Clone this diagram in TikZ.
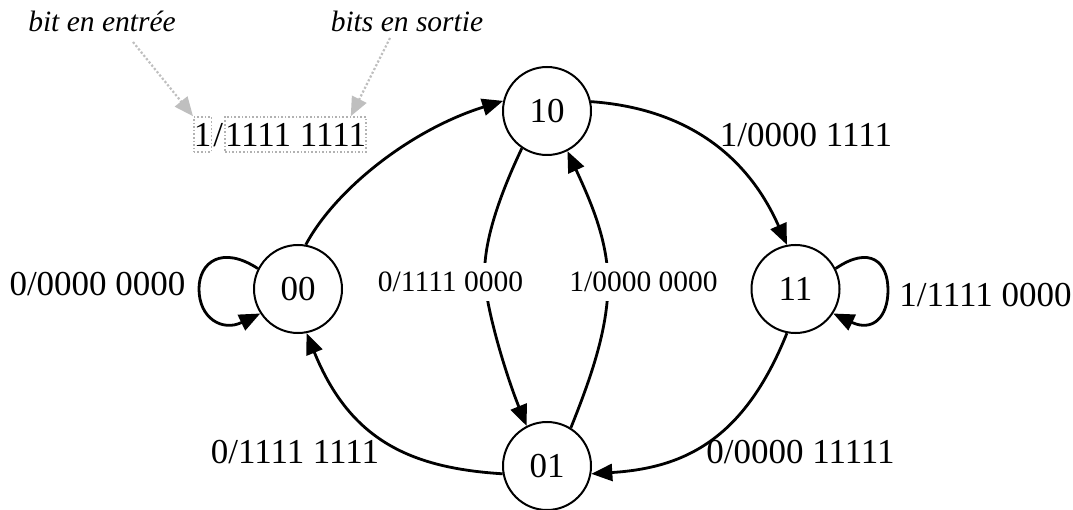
\documentclass[tikz,border=0pt]{standalone}
\usepackage{fontspec}
\setmainfont{Liberation Serif}
\usetikzlibrary{arrows.meta}
\begin{document}
\begin{tikzpicture}[x=1pt,y=-1pt,
  state/.style={circle,draw,line width=2pt,minimum size=88pt,inner sep=0pt,font=\fontsize{35}{40}\selectfont},
  edge/.style={line width=2.8pt,-{Triangle[length=21pt,width=17pt]}},
  lab/.style={inner sep=0pt,anchor=base,font=\fontsize{35}{40}\selectfont},
  midlab/.style={fill=white,inner xsep=2pt,inner ysep=9pt,anchor=base,font=\fontsize{29.5}{34}\selectfont},
  note/.style={inner sep=0pt,anchor=base,font=\fontsize{29.5}{34}\selectfont\itshape},
  hint/.style={draw=black!25,line width=2.2pt,dotted,-{Triangle[length=19pt,width=16pt,fill=black!25]}},
  partbox/.style={draw=black!30,line width=1.6pt,dotted,inner sep=0pt,text height=30pt,text depth=5pt,anchor=base west,font=\fontsize{35}{40}\selectfont}
]
\useasboundingbox (0,0) rectangle (1073,510);

\node[state] (n00) at (298,289) {00};
\node[state] (n10) at (547,111) {10};
\node[state] (n11) at (795.5,289) {11};
\node[state] (n01) at (547,466) {01};

% annotation
\node[partbox] (inbit) at (193,147) {1};
\node[inner sep=0pt,anchor=base west,font=\fontsize{35}{40}\selectfont] (slash) at ([xshift=1pt]inbit.base east) {/};
\node[partbox] (outbits) at ([xshift=1pt]slash.base east) {1111 1111};
\node[note] (tin) at (102,32) {bit en entrée};
\node[note] (tout) at (407,32) {bits en sortie};
\coordinate (tinend) at (133,42);
\coordinate (toutend) at (390,38);
\draw[hint] (tinend) -- (inbit.north west);
\draw[hint] (toutend) -- ([xshift=-16pt]outbits.north east);

% edges
\draw[edge] (n00.80) .. controls (335,190) and (410,130) .. (n10.167);
\draw[edge] (n10.12) .. controls (680,108) and (745,150) .. (n11.101);
\draw[edge] (n11.27) .. controls (870,245) and (888,262) .. (888,290) .. controls (888,318) and (872,332) .. (n11.-33);
\draw[edge] (n00.153) .. controls (222,245) and (199,262) .. (199,289) .. controls (199,318) and (222,332) .. (n00.213);
\draw[edge] (n10.236) .. controls (495,205) and (482,250) .. (485,283) .. controls (489,320) and (508,380) .. (n01.117);
\draw[edge] (n01.58) .. controls (590,380) and (608,330) .. (608,283) .. controls (608,240) and (590,200) .. (n10.-63);
\draw[edge] (n11.-101) .. controls (744,440) and (684,468) .. (n01.-10);
\draw[edge] (n01.190) .. controls (410,468) and (350,440) .. (n00.-79);

% labels
\node[lab] (l1) at (97.5,296) {0/0000 0000};
\node[lab] (l2) at (806,147) {1/0000 1111};
\node[lab] (l3) at (985.5,307) {1/1111 0000};
\node[midlab] (l4) at (450.5,292) {0/1111 0000};
\node[midlab] (l5) at (643.5,292) {1/0000 0000};
\node[lab] (l6) at (295,463) {0/1111 1111};
\node[lab] (l7) at (800.5,463) {0/0000 11111};
\end{tikzpicture}
\end{document}
